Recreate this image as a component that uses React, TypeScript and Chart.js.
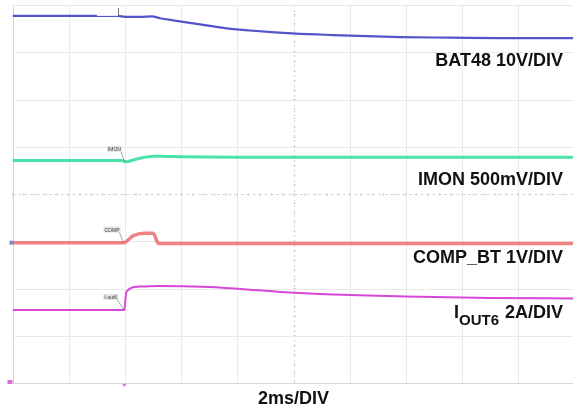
import React, { useEffect, useRef } from "react";
import { Chart, registerables } from "chart.js";

Chart.register(...registerables);

// time axis in ms (2 ms/div, 10 divisions); vertical axis in divisions (8 divisions)
const timeDivisions = [0, 2, 4, 6, 8, 10, 12, 14, 16, 18, 20];
const levelDivisions = [0, 1, 2, 3, 4, 5, 6, 7, 8];

const bat48Time = [0, 3.75, 4.0, 4.54, 4.96, 5.25, 5.78, 6.67, 7.56, 8.45, 9.34, 10.23, 11.12, 12.01, 13.8, 15.57, 17.35, 20];
const bat48Values = [7.77, 7.77, 7.75, 7.75, 7.76, 7.72, 7.67, 7.59, 7.51, 7.46, 7.42, 7.39, 7.37, 7.35, 7.32, 7.31, 7.3, 7.3];

const imonTime = [0, 3.9, 4.0, 4.5, 5.0, 5.3, 6.0, 8.0, 20];
const imonValues = [4.71, 4.71, 4.68, 4.75, 4.8, 4.8, 4.79, 4.78, 4.78];

const compTime = [0, 3.95, 4.3, 4.7, 5.0, 5.2, 5.5, 20];
const compValues = [2.97, 2.97, 3.12, 3.17, 3.17, 2.95, 2.95, 2.95];

const ioutTime = [0, 3.98, 4.05, 4.5, 5.2, 7, 9, 10, 12, 14, 17, 20];
const ioutValues = [1.545, 1.545, 1.93, 2.04, 2.055, 2.03, 1.95, 1.91, 1.86, 1.83, 1.8, 1.79];

const channelLabels = ["BAT48 10V/DIV", "IMON 500mV/DIV", "COMP_BT 1V/DIV", "2A/DIV"];
const timebaseLabel = "2ms/DIV";

const toPoints = (t: number[], v: number[]) => t.map((x, i) => ({ x, y: v[i] }));

const gridPlugin = {
  id: "scopeGrid",
  beforeDatasetsDraw(chart: any) {
    const { ctx, scales } = chart;
    const xs = scales.x;
    const ys = scales.y;
    const top = ys.getPixelForValue(8);
    const bottom = ys.getPixelForValue(0);
    const left = xs.getPixelForValue(0);
    const right = xs.getPixelForValue(20);
    ctx.save();
    ctx.lineWidth = 1;
    timeDivisions.forEach((t) => {
      const px = Math.round(xs.getPixelForValue(t)) + 0.5;
      ctx.strokeStyle = t === 0 ? "#d4d4d4" : "#e9e9e9";
      if (t === 10) {
        ctx.strokeStyle = "#d2d2d2";
        ctx.setLineDash([2, 3]);
      } else ctx.setLineDash([]);
      ctx.beginPath();
      ctx.moveTo(px, top);
      ctx.lineTo(px, bottom);
      ctx.stroke();
    });
    levelDivisions.forEach((l) => {
      const py = Math.round(ys.getPixelForValue(l)) + 0.5;
      ctx.strokeStyle = l === 0 ? "#d8d8d8" : "#e9e9e9";
      if (l === 4) {
        ctx.strokeStyle = "#d2d2d2";
        ctx.setLineDash([3, 3]);
      } else ctx.setLineDash([]);
      ctx.beginPath();
      ctx.moveTo(left, py);
      ctx.lineTo(right, py);
      ctx.stroke();
    });
    ctx.setLineDash([]);
    // minor ticks on center lines
    ctx.strokeStyle = "#d6d6d6";
    const cx = Math.round(xs.getPixelForValue(10)) + 0.5;
    const cy = Math.round(ys.getPixelForValue(4)) + 0.5;
    for (let t = 0; t <= 20; t += 0.4) {
      const px = xs.getPixelForValue(t);
      ctx.beginPath();
      ctx.moveTo(px, cy - 1.5);
      ctx.lineTo(px, cy + 1.5);
      ctx.stroke();
    }
    for (let l = 0; l <= 8; l += 0.2) {
      const py = ys.getPixelForValue(l);
      ctx.beginPath();
      ctx.moveTo(cx - 1.5, py);
      ctx.lineTo(cx + 1.5, py);
      ctx.stroke();
    }
    ctx.restore();
  },
  afterDatasetsDraw(chart: any) {
    const { ctx, scales } = chart;
    const xs = scales.x;
    const ys = scales.y;
    ctx.save();
    // white box over blue trace near trigger
    const mx = xs.getPixelForValue(3.75);
    const my = ys.getPixelForValue(7.77);
    ctx.fillStyle = "#ffffff";
    ctx.fillRect(mx - 21, my - 5, 21, 5);
    ctx.strokeStyle = "#777";
    ctx.lineWidth = 1;
    ctx.beginPath();
    ctx.moveTo(Math.round(mx) + 0.5, my - 8);
    ctx.lineTo(Math.round(mx) + 0.5, my);
    ctx.stroke();

    // small channel tags
    const tag = (text: string, t: number, v: number, dx: number, dy: number) => {
      const px = xs.getPixelForValue(t);
      const py = ys.getPixelForValue(v);
      ctx.font = "5px 'Liberation Sans', Arial, sans-serif";
      const w = ctx.measureText(text).width;
      ctx.fillStyle = "#e4e4e4";
      ctx.fillRect(px + dx - 1, py + dy - 5, w + 2, 6);
      ctx.fillStyle = "#444";
      ctx.textAlign = "left";
      ctx.textBaseline = "alphabetic";
      ctx.fillText(text, px + dx, py + dy);
      ctx.strokeStyle = "#666";
      ctx.lineWidth = 0.6;
      ctx.beginPath();
      ctx.moveTo(px + dx + w, py + dy + 1);
      ctx.lineTo(px, py);
      ctx.stroke();
    };
    tag("IMON", 4.0, 4.68, -17, -11);
    tag("COMP", 3.95, 2.97, -19, -11);
    tag("I-out6", 3.98, 1.545, -20, -11);

    // left ground markers
    ctx.fillStyle = "#7b86c9";
    ctx.fillRect(xs.getPixelForValue(0) - 3, ys.getPixelForValue(2.97) - 2, 4, 4);
    ctx.fillStyle = "#d070d0";
    ctx.fillRect(xs.getPixelForValue(0) - 5, ys.getPixelForValue(0) - 3, 5, 4);
    // trigger marker
    const tx = xs.getPixelForValue(3.98);
    const ty = ys.getPixelForValue(0);
    ctx.beginPath();
    ctx.moveTo(tx - 2, ty + 1);
    ctx.lineTo(tx + 2, ty + 1);
    ctx.lineTo(tx, ty + 4);
    ctx.closePath();
    ctx.fill();

    // channel labels
    const right = 563;
    ctx.fillStyle = "#111";
    ctx.textAlign = "right";
    ctx.textBaseline = "alphabetic";
    ctx.font = "bold 18px 'Liberation Sans', Arial, sans-serif";
    ctx.fillText(channelLabels[0], right, 66);
    ctx.fillText(channelLabels[1], right, 185);
    ctx.fillText(channelLabels[2], right, 263);
    // IOUT6 with subscript
    const wMain = ctx.measureText(channelLabels[3]).width;
    ctx.fillText(channelLabels[3], right, 318);
    ctx.font = "bold 15px 'Liberation Sans', Arial, sans-serif";
    const subRight = right - wMain - 6;
    const wSub = ctx.measureText("OUT6").width;
    ctx.fillText("OUT6", subRight, 325);
    ctx.font = "bold 18px 'Liberation Sans', Arial, sans-serif";
    ctx.fillText("I", subRight - wSub, 318);

    ctx.textAlign = "center";
    ctx.fillText(timebaseLabel, xs.getPixelForValue(10), 404);
    ctx.restore();
  },
};

export default function App() {
  const canvasRef = useRef<HTMLCanvasElement | null>(null);

  useEffect(() => {
    if (!canvasRef.current) return;
    const chart = new Chart(canvasRef.current, {
      type: "line",
      data: {
        datasets: [
          {
            label: "BAT48",
            data: toPoints(bat48Time, bat48Values),
            borderColor: "#5454c9",
            borderWidth: 2.2,
            pointRadius: 0,
            cubicInterpolationMode: "monotone",
          },
          {
            label: "IMON",
            data: toPoints(imonTime, imonValues),
            borderColor: "#4ae2a6",
            borderWidth: 3,
            pointRadius: 0,
            cubicInterpolationMode: "monotone",
          },
          {
            label: "COMP_BT",
            data: toPoints(compTime, compValues),
            borderColor: "rgba(238,108,108,0.85)",
            borderWidth: 3.5,
            pointRadius: 0,
            cubicInterpolationMode: "monotone",
          },
          {
            label: "IOUT6",
            data: toPoints(ioutTime, ioutValues),
            borderColor: "#d848d8",
            borderWidth: 2,
            pointRadius: 0,
            cubicInterpolationMode: "monotone",
          },
        ],
      },
      options: {
        animation: false,
        responsive: false,
        layout: { padding: { left: 12.5, right: 1.5, top: 5, bottom: 27 } },
        scales: {
          x: { type: "linear", min: 0, max: 20, display: false },
          y: { type: "linear", min: 0, max: 8, display: false },
        },
        plugins: { legend: { display: false }, tooltip: { enabled: false } },
      },
      plugins: [gridPlugin],
    } as any);
    return () => chart.destroy();
  }, []);

  return (
    <div
      style={{
        position: "absolute",
        left: 0,
        top: 0,
        width: 573,
        height: 410,
        overflow: "hidden",
        background: "#fff",
      }}
    >
      <canvas ref={canvasRef} width={576} height={410} style={{ display: "block", width: 576, height: 410 }} />
    </div>
  );
}
